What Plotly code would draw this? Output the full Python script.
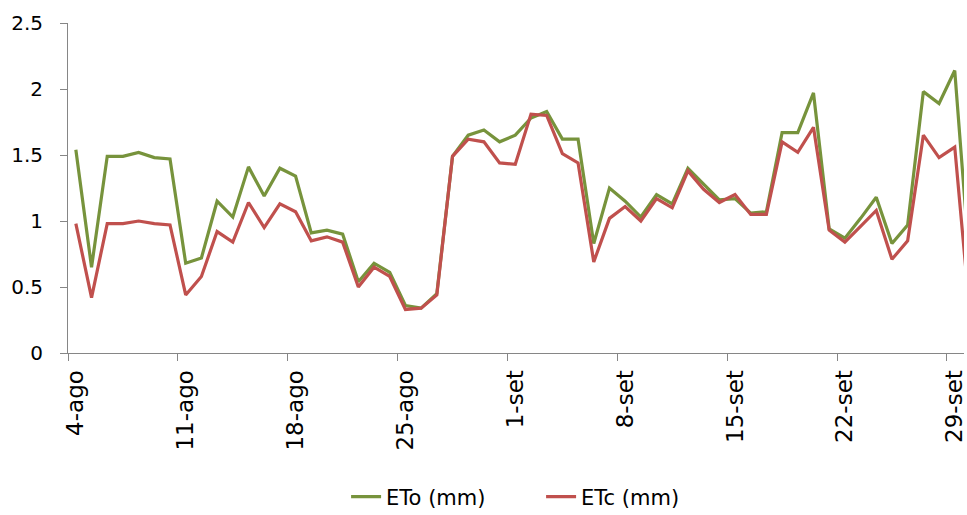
import pandas as pd
import plotly.graph_objects as go

# Daily series, 4 Aug - 30 Sep
dias = pd.date_range("2013-08-04", periods=58, freq="D")

eto_mm = [
    1.54, 0.65, 1.49, 1.49, 1.52, 1.48, 1.47, 0.68, 0.72, 1.15,
    1.03, 1.41, 1.19, 1.40, 1.34, 0.91, 0.93, 0.90, 0.54, 0.68,
    0.61, 0.36, 0.34, 0.45, 1.49, 1.65, 1.69, 1.60, 1.65, 1.78,
    1.83, 1.62, 1.62, 0.83, 1.25, 1.15, 1.03, 1.20, 1.13, 1.40,
    1.28, 1.16, 1.17, 1.06, 1.07, 1.67, 1.67, 1.97, 0.94, 0.87,
    1.02, 1.18, 0.83, 0.97, 1.98, 1.89, 2.14, 0.60,
]

etc_mm = [
    0.98, 0.42, 0.98, 0.98, 1.00, 0.98, 0.97, 0.44, 0.58, 0.92,
    0.84, 1.14, 0.95, 1.13, 1.07, 0.85, 0.88, 0.84, 0.50, 0.65,
    0.58, 0.33, 0.34, 0.44, 1.49, 1.62, 1.60, 1.44, 1.43, 1.81,
    1.80, 1.51, 1.44, 0.69, 1.02, 1.11, 1.00, 1.17, 1.10, 1.38,
    1.24, 1.14, 1.20, 1.05, 1.05, 1.60, 1.52, 1.71, 0.93, 0.84,
    0.96, 1.08, 0.71, 0.85, 1.65, 1.48, 1.56, 0.25,
]

rotulos_x = ["4-ago", "11-ago", "18-ago", "25-ago", "1-set",
             "8-set", "15-set", "22-set", "29-set"]

# weekly tick marks sit on the day boundaries, labels centred on the day
meio_dia = pd.Timedelta(hours=12)
ticks_x = [d - meio_dia for d in dias[::7][:len(rotulos_x)]]

cinza = "#868686"
fonte = "DejaVu Sans"

fig = go.Figure()
fig.add_trace(go.Scatter(
    x=dias, y=eto_mm, name="ETo (mm)", mode="lines",
    line=dict(color="#77933C", width=3.2),
))
fig.add_trace(go.Scatter(
    x=dias, y=etc_mm, name="ETc (mm)", mode="lines",
    line=dict(color="#C0504D", width=3.2),
))

fig.update_layout(
    width=967, height=515,
    margin=dict(l=68, r=0, t=23, b=162),
    paper_bgcolor="white", plot_bgcolor="white",
    showlegend=True,
    legend=dict(
        orientation="h", x=0.528, xanchor="center",
        yref="container", y=0.035, yanchor="middle",
        entrywidth=150, entrywidthmode="pixels",
        font=dict(family=fonte, size=21, color="#000000"),
    ),
    xaxis=dict(
        range=[dias[0] - meio_dia, pd.Timestamp("2013-09-29 14:10")],
        tickmode="array", tickvals=ticks_x, ticktext=rotulos_x,
        tickangle=-90, ticklabelshift=8, ticklabeloverflow="allow",
        ticks="outside", ticklen=7, tickcolor=cinza, tickwidth=1,
        showline=True, linecolor=cinza, linewidth=1,
        showgrid=False, zeroline=False,
        tickfont=dict(family=fonte, size=23, color="#000000"),
    ),
    yaxis=dict(
        range=[0, 2.5], tickmode="linear", tick0=0, dtick=0.5,
        ticks="outside", ticklen=7, tickcolor=cinza, tickwidth=1,
        showline=True, linecolor=cinza, linewidth=1,
        showgrid=False, zeroline=False, ticklabelstandoff=13,
        tickfont=dict(family=fonte, size=20, color="#000000"),
    ),
)

fig.write_html("out.html", config={"displayModeBar": False})
